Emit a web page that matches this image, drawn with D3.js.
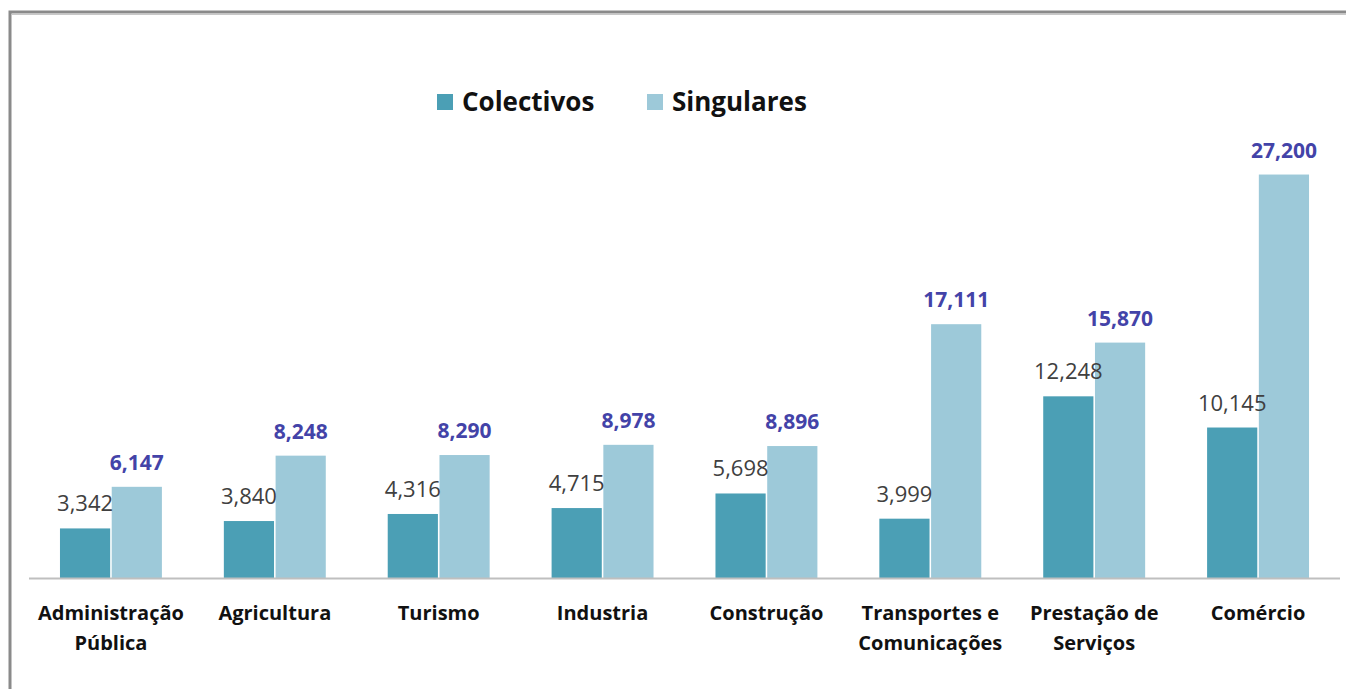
<!DOCTYPE html>
<html>
<head>
<meta charset="utf-8">
<script src="https://cdn.jsdelivr.net/npm/d3@7"></script>
<style>
  body { margin: 0; background: #fff; }
  svg { display: block; font-family: "Open Sans", Lato, sans-serif; }
</style>
</head>
<body>
<svg id="chart"></svg>
<script>
// categories (two-line tick labels)
let categories = [
  ['Administração', 'Pública'],
  ['Agricultura'],
  ['Turismo'],
  ['Industria'],
  ['Construção'],
  ['Transportes e', 'Comunicações'],
  ['Prestação de', 'Serviços'],
  ['Comércio']
];
let seriesNames = ['Colectivos', 'Singulares'];
let colectivos = [3342, 3840, 4316, 4715, 5698, 3999, 12248, 10145];
let singulares = [6147, 8248, 8290, 8978, 8896, 17111, 15870, 27200];

let colors = ['#4b9fb5', '#9dc9d9'];

let config = { svg: {}, plot: {} };
config.svg.width = 1346;
config.svg.height = 689;
config.plot.left = 29;
config.plot.right = 1340;
config.plot.base = 578;
config.plot.top = 133;

let svg = d3.select('svg#chart')
  .attr('width', config.svg.width)
  .attr('height', config.svg.height);

// frame (only top + left edge are inside the picture)
svg.append('rect').attr('x', 10).attr('y', 12).attr('width', 1400).attr('height', 700)
  .attr('fill', 'none').attr('stroke', '#8a8a8a').attr('stroke-width', 3);
svg.append('line').attr('x1', 12).attr('x2', 1346).attr('y1', 14.5).attr('y2', 14.5)
  .attr('stroke', '#c8c8c8').attr('stroke-width', 1);

let keys = categories.map(c => c.join(' '));
let data = keys.map((k, i) => ({ key: k, lines: categories[i], values: [colectivos[i], singulares[i]] }));

let scale = {};
scale.x = d3.scaleBand().domain(keys).range([config.plot.left, config.plot.right])
  .paddingInner(0.378).paddingOuter(0.189);
scale.s = d3.scaleBand().domain(d3.range(2)).range([0, scale.x.bandwidth()]).paddingInner(0.03);
scale.y = d3.scaleLinear().domain([0, 30000]).range([config.plot.base, config.plot.top]);

let fmt = d3.format(',');

let groups = svg.append('g').selectAll('g.group')
  .data(data).enter().append('g')
  .attr('class', 'group')
  .attr('transform', d => translate(scale.x(d.key), 0));

groups.selectAll('rect')
  .data(d => d.values.map((v, j) => ({ v: v, j: j })))
  .enter().append('rect')
  .attr('x', d => scale.s(d.j))
  .attr('width', scale.s.bandwidth())
  .attr('y', d => scale.y(d.v))
  .attr('height', d => scale.y(0) - scale.y(d.v))
  .attr('fill', d => colors[d.j]);

groups.selectAll('text.val')
  .data(d => d.values.map((v, j) => ({ v: v, j: j })))
  .enter().append('text')
  .attr('class', 'val')
  .attr('x', d => scale.s(d.j) + scale.s.bandwidth() / 2)
  .attr('y', d => scale.y(d.v) - 17)
  .attr('text-anchor', 'middle')
  .style('font-size', d => d.j === 1 ? '21px' : '22px')
  .style('font-weight', d => d.j === 1 ? 700 : 400)
  .style('fill', d => d.j === 1 ? '#4343a8' : '#404040')
  .text(d => fmt(d.v));

// baseline
svg.append('line')
  .attr('x1', config.plot.left).attr('x2', config.plot.right)
  .attr('y1', scale.y(0) + 0.5).attr('y2', scale.y(0) + 0.5)
  .attr('stroke', '#bfbfbf').attr('stroke-width', 2);

// category labels
let labels = svg.append('g').selectAll('text.cat')
  .data(data).enter().append('text')
  .attr('class', 'cat')
  .attr('x', d => scale.x(d.key) + scale.x.bandwidth() / 2)
  .attr('y', 620)
  .attr('text-anchor', 'middle')
  .style('font-size', '20px')
  .style('font-weight', 700)
  .style('fill', '#111');
labels.selectAll('tspan')
  .data(d => d.lines)
  .enter().append('tspan')
  .attr('x', function() { return d3.select(this.parentNode).attr('x'); })
  .attr('dy', (d, i) => i === 0 ? 0 : 30)
  .text(d => d);

// legend
let legendX = [437, 647];
let legend = svg.append('g').selectAll('g.leg')
  .data(seriesNames).enter().append('g')
  .attr('class', 'leg')
  .attr('transform', (d, i) => translate(legendX[i], 94));
legend.append('rect').attr('width', 16).attr('height', 16).attr('fill', (d, i) => colors[i]);
legend.append('text').attr('x', 25).attr('y', 17)
  .style('font-size', '26px').style('font-weight', 700).style('fill', '#111')
  .text(d => d);

function translate(x, y) {
  return 'translate(' + x + ',' + y + ')';
}
</script>
</body>
</html>
